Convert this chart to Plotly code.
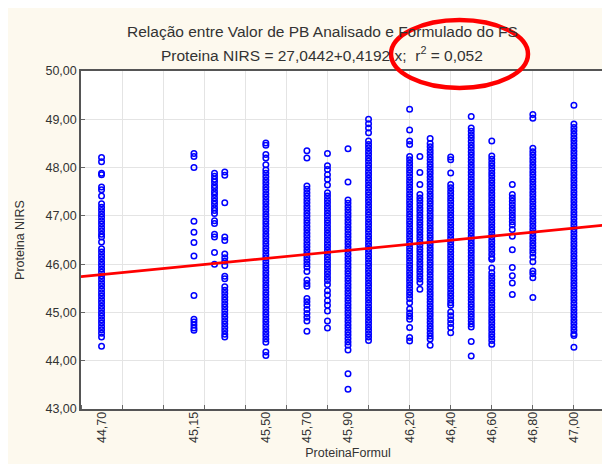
import plotly.graph_objects as go

# ---------------- data ----------------
x_columns = [44.70, 45.15, 45.25, 45.30, 45.50, 45.70, 45.80, 45.90, 46.00,
             46.20, 46.25, 46.30, 46.40, 46.50, 46.60, 46.70, 46.80, 47.00]

y_44_70 = [48.21, 48.12, 47.88, 47.85, 47.60, 47.54, 47.41,
           47.25, 47.18, 47.11, 47.04, 46.97, 46.90, 46.83, 46.76, 46.69, 46.62, 46.56,
           46.46,
           46.32, 46.25, 46.18, 46.11, 46.04, 45.97, 45.90, 45.83, 45.76, 45.69, 45.62,
           45.55, 45.48, 45.41, 45.34, 45.27, 45.20, 45.13, 45.06, 44.99, 44.92, 44.85,
           44.78, 44.71, 44.64, 44.57, 44.49, 44.30]
y_45_15 = [48.29, 48.23, 48.00, 46.89, 46.66, 46.45, 46.17, 45.35,
           44.86, 44.80, 44.74, 44.68, 44.63]
y_45_25 = [47.88, 47.82, 47.76, 47.70, 47.63, 47.57, 47.50, 47.44, 47.37, 47.30,
           47.24, 47.17, 47.11, 47.05, 46.90, 46.84, 46.62, 46.56, 46.24, 46.00]
y_45_30 = [47.91, 47.84, 47.27, 46.56, 46.49, 46.21, 46.13, 46.06, 45.97, 45.75, 45.70,
           45.53, 45.46, 45.39, 45.32, 45.25, 45.18, 45.11, 45.04, 44.97, 44.90, 44.83,
           44.76, 44.69, 44.62, 44.55, 44.49]
y_45_50 = [48.51, 48.46, 48.27, 48.20, 48.06,
           47.95, 47.88, 47.81, 47.74, 47.67, 47.60, 47.53, 47.46, 47.39, 47.32, 47.25,
           47.18, 47.11, 47.04, 46.97, 46.90, 46.83, 46.76, 46.69, 46.62, 46.55, 46.48,
           46.41, 46.34, 46.27, 46.20, 46.13, 46.06, 45.99, 45.92, 45.85, 45.78, 45.71,
           45.64, 45.57, 45.50, 45.43, 45.36, 45.29, 45.22, 45.15, 45.08, 45.01, 44.94,
           44.87, 44.80, 44.73, 44.66, 44.59, 44.52, 44.45, 44.38, 44.18, 44.11]
y_45_70 = [48.35, 48.20,
           47.62, 47.55, 47.48, 47.41, 47.34, 47.27, 47.20, 47.13, 47.06, 46.99, 46.92,
           46.85, 46.78, 46.71, 46.64, 46.57, 46.50, 46.43, 46.36, 46.29, 46.22, 46.15,
           46.08, 46.01, 45.94, 45.85, 45.67, 45.60, 45.54, 45.29, 45.22, 45.15, 45.06,
           44.98, 44.90, 44.82, 44.61]
y_45_80 = [48.29, 48.04, 47.96, 47.85, 47.76, 47.64,
           47.48, 47.41, 47.34, 47.27, 47.20, 47.13, 47.06, 46.99, 46.92, 46.85, 46.78,
           46.71, 46.64, 46.57, 46.50, 46.43, 46.36, 46.29, 46.22, 46.15, 46.08, 46.01,
           45.94, 45.87, 45.80, 45.73, 45.66, 45.58, 45.45, 45.36, 45.24, 45.15, 45.03,
           44.82, 44.68]
y_45_90 = [48.39, 47.70,
           47.33, 47.26, 47.19, 47.12, 47.05, 46.98, 46.91, 46.84, 46.77, 46.70, 46.63,
           46.56, 46.49, 46.42, 46.35, 46.28, 46.21, 46.14, 46.07, 46.00, 45.93, 45.86,
           45.79, 45.72, 45.65, 45.58, 45.51, 45.44, 45.37, 45.30, 45.23, 45.16, 45.09,
           45.02, 44.95, 44.88, 44.81, 44.74, 44.67, 44.60, 44.53, 44.46, 44.39, 44.32,
           44.22, 43.73, 43.41]
y_46_00 = [49.00, 48.91, 48.82, 48.72,
           48.55, 48.48, 48.41, 48.34, 48.27, 48.20, 48.13, 48.06, 47.99, 47.92, 47.85,
           47.78, 47.71, 47.64, 47.57, 47.50, 47.43, 47.36, 47.29, 47.22, 47.15, 47.08,
           47.01, 46.94, 46.87, 46.80, 46.73, 46.66, 46.59, 46.52, 46.45, 46.38, 46.31,
           46.24, 46.17, 46.10, 46.03, 45.96, 45.89, 45.82, 45.75, 45.68, 45.61, 45.54,
           45.47, 45.40, 45.33, 45.26, 45.19, 45.12, 45.05, 44.98, 44.91, 44.84, 44.77,
           44.70, 44.63, 44.56, 44.49, 44.42]
y_46_20 = [49.21, 48.78, 48.55, 48.48,
           48.23, 48.16, 48.09, 48.02, 47.95, 47.88, 47.81, 47.74, 47.67, 47.60, 47.53,
           47.46, 47.39, 47.32, 47.25, 47.18, 47.11, 47.04, 46.97, 46.90, 46.83, 46.76,
           46.69, 46.62, 46.55, 46.48, 46.41, 46.34, 46.27, 46.20, 46.13, 46.06, 45.99,
           45.92, 45.85, 45.78, 45.71, 45.64, 45.57, 45.50, 45.43, 45.36, 45.29, 45.20,
           45.07, 44.99, 44.92, 44.86, 44.69, 44.48, 44.41]
y_46_25 = [48.23, 47.90, 47.65,
           47.44, 47.37, 47.30, 47.23, 47.16, 47.09, 47.02, 46.95, 46.88, 46.81, 46.74,
           46.67, 46.60, 46.53, 46.46, 46.39, 46.32, 46.25, 46.18, 46.11, 46.04, 45.97,
           45.90, 45.83, 45.76, 45.69, 45.62, 45.48]
y_46_30 = [48.60,
           48.50, 48.43, 48.36, 48.29, 48.22, 48.15, 48.08, 48.01, 47.94, 47.87, 47.80,
           47.73, 47.66, 47.59, 47.52, 47.45, 47.38, 47.31, 47.24, 47.17, 47.10, 47.03,
           46.96, 46.89, 46.82, 46.75, 46.68, 46.61, 46.54, 46.47, 46.40, 46.33, 46.26,
           46.19, 46.12, 46.05, 45.98, 45.91, 45.84, 45.77, 45.70, 45.63, 45.56, 45.49,
           45.42, 45.35, 45.28, 45.21, 45.14, 45.07, 45.00, 44.93, 44.86, 44.79, 44.72,
           44.65, 44.58, 44.51, 44.45, 44.32]
y_46_40 = [48.22, 48.16, 47.89,
           47.65, 47.58, 47.51, 47.44, 47.37, 47.30, 47.23, 47.16, 47.09, 47.02, 46.95,
           46.88, 46.81, 46.74, 46.67, 46.60, 46.53, 46.46, 46.39, 46.32, 46.25, 46.18,
           46.11, 46.04, 45.97, 45.90, 45.83, 45.76, 45.69, 45.62, 45.55, 45.48, 45.41,
           45.34, 45.27, 45.20, 45.15, 45.01, 44.93, 44.85, 44.77, 44.69, 44.58]
y_46_50 = [49.06,
           48.82, 48.75, 48.68, 48.61, 48.54, 48.47, 48.40, 48.33, 48.26, 48.19, 48.12,
           48.05, 47.98, 47.91, 47.84, 47.77, 47.70, 47.63, 47.56, 47.49, 47.42, 47.35,
           47.28, 47.21, 47.14, 47.07, 47.00, 46.93, 46.86, 46.79, 46.72, 46.65, 46.58,
           46.51, 46.44, 46.37, 46.30, 46.23, 46.16, 46.09, 46.02, 45.95, 45.88, 45.81,
           45.74, 45.67, 45.60, 45.53, 45.46, 45.39, 45.32, 45.25, 45.18, 45.11, 45.04,
           44.97, 44.90, 44.83, 44.76, 44.70, 44.40, 44.10]
y_46_60 = [48.55,
           48.24, 48.17, 48.10, 48.03, 47.96, 47.89, 47.82, 47.75, 47.68, 47.61, 47.54,
           47.47, 47.40, 47.33, 47.26, 47.19, 47.12, 47.05, 46.98, 46.91, 46.84, 46.77,
           46.70, 46.63, 46.56, 46.49, 46.42, 46.35, 46.28, 46.21, 46.14, 46.10, 45.92,
           45.82, 45.75, 45.68, 45.61, 45.54, 45.47, 45.40, 45.33, 45.26, 45.19, 45.12,
           45.05, 44.98, 44.91, 44.84, 44.77, 44.70, 44.63, 44.56, 44.49, 44.42, 44.34]
y_46_70 = [47.65, 47.44, 47.37, 47.30, 47.23, 47.16, 47.09, 47.02, 46.95, 46.88,
           46.81, 46.72, 46.58, 46.30, 45.93, 45.76, 45.61, 45.37]
y_46_80 = [49.10, 49.02,
           48.40, 48.33, 48.26, 48.19, 48.12, 48.05, 47.98, 47.91, 47.84, 47.77, 47.70,
           47.63, 47.56, 47.49, 47.42, 47.35, 47.28, 47.21, 47.14, 47.07, 47.00, 46.93,
           46.86, 46.79, 46.72, 46.65, 46.58, 46.51, 46.44, 46.37, 46.30, 46.23, 46.15,
           46.05, 45.86, 45.80, 45.72, 45.31]
y_47_00 = [49.29, 48.90,
           48.83, 48.76, 48.69, 48.62, 48.55, 48.48, 48.41, 48.34, 48.27, 48.20, 48.13,
           48.06, 47.99, 47.92, 47.85, 47.78, 47.71, 47.64, 47.57, 47.50, 47.43, 47.36,
           47.29, 47.22, 47.15, 47.08, 47.01, 46.94, 46.87, 46.80, 46.73, 46.66, 46.59,
           46.52, 46.45, 46.38, 46.31, 46.24, 46.17, 46.10, 46.03, 45.96, 45.89, 45.82,
           45.75, 45.68, 45.61, 45.54, 45.47, 45.40, 45.33, 45.26, 45.19, 45.12, 45.05,
           44.98, 44.91, 44.84, 44.77, 44.70, 44.63, 44.56, 44.52, 44.28]

y_columns = [y_44_70, y_45_15, y_45_25, y_45_30, y_45_50, y_45_70, y_45_80, y_45_90,
             y_46_00, y_46_20, y_46_25, y_46_30, y_46_40, y_46_50, y_46_60, y_46_70,
             y_46_80, y_47_00]

tick_values = [44.70, 45.15, 45.50, 45.70, 45.90, 46.20, 46.40, 46.60, 46.80, 47.00]
tick_labels = ["44,70", "45,15", "45,50", "45,70", "45,90", "46,20", "46,40",
               "46,60", "46,80", "47,00"]

intercept = 27.0442
slope = 0.4192
x_range = [44.6, 47.2]
y_range = [43.0, 50.0]

title_line1 = "Relação entre Valor de PB Analisado e Formulado do FS"
title_line2 = "Proteina NIRS = 27,0442+0,4192 x;  r<sup>2</sup> = 0,052"
x_title = "ProteinaFormul"
y_title = "Proteina NIRS"

# ---------------- figure ----------------
xs, ys = [], []
for xv, col in zip(x_columns, y_columns):
    for yv in col:
        xs.append(xv)
        ys.append(yv)

FONT = "Liberation Sans, Arial, sans-serif"
W, H = 610, 464
L, R, T, B = 73, 3, 63, 63
pw, ph = W - L - R, H - T - B

def px_x(p):
    return (p - L) / pw

def px_y(p):
    return (H - B - p) / ph

fig = go.Figure()
fig.add_trace(go.Scatter(
    x=xs, y=ys, mode="markers",
    marker=dict(symbol="circle-open", size=5.5, color="#0000FF",
                line=dict(width=1.5, color="#0000FF")),
    showlegend=False, hoverinfo="x+y"))

line_y = [intercept + slope * v for v in x_range]
fig.add_trace(go.Scatter(
    x=x_range, y=line_y, mode="lines",
    line=dict(color="#FF0000", width=2.6),
    showlegend=False))

axis_common = dict(showline=True, linecolor="#555555", linewidth=1.5, mirror=True,
                   zeroline=False, gridcolor="#E4E4E4", gridwidth=1)

fig.update_layout(
    width=W, height=H,
    margin=dict(l=L, r=R, t=T, b=B, autoexpand=False),
    paper_bgcolor="#FDF9EE", plot_bgcolor="#FFFFFF",
    separators=",.",
    font=dict(family=FONT, size=12.5, color="#333333"),
    xaxis=dict(
        range=x_range, tickmode="array", tickvals=tick_values, ticktext=tick_labels,
        tickangle=-90, ticks="", showgrid=False, ticklabelstandoff=-4,
        tickfont=dict(size=12.5, color="#333333"),
        minor=dict(tickmode="linear", tick0=44.6, dtick=0.2, showgrid=True,
                   gridcolor="#E4E4E4", gridwidth=1, ticks="inside", ticklen=4,
                   tickcolor="#666666"),
        title=dict(text=x_title, font=dict(size=12.5, color="#333333"), standoff=6),
        automargin=False,
        **axis_common),
    yaxis=dict(
        range=y_range, tickmode="linear", tick0=43, dtick=1, tickformat=".2f",
        showgrid=True, ticks="inside", ticklen=4, tickcolor="#666666",
        tickfont=dict(size=12.5, color="#333333"),
        title=dict(text=y_title, font=dict(size=12.5, color="#333333"), standoff=18),
        automargin=False,
        **axis_common),
    annotations=[
        dict(text=title_line1, xref="paper", yref="paper", x=px_x(314), y=px_y(24),
             xanchor="center", yanchor="middle", showarrow=False,
             font=dict(size=15.5, color="#333333", family=FONT)),
        dict(text=title_line2, xref="paper", yref="paper", x=px_x(314), y=px_y(46),
             xanchor="center", yanchor="middle", showarrow=False,
             font=dict(size=15.5, color="#333333", family=FONT)),
    ],
    shapes=[
        dict(type="circle", xref="paper", yref="paper",
             x0=px_x(383), x1=px_x(520), y0=px_y(80), y1=px_y(12),
             line=dict(color="#FF0000", width=4.5), layer="above"),
    ],
)

fig.write_html("out.html")
